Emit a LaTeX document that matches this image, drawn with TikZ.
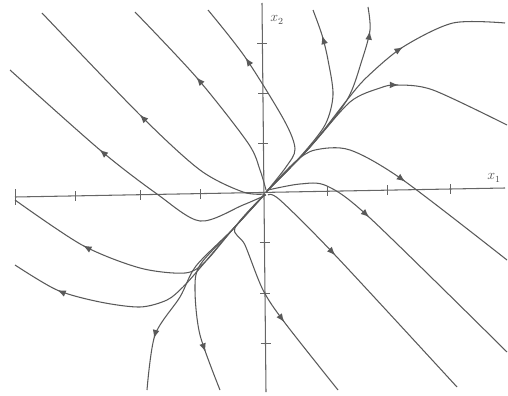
\documentclass[tikz,border=0pt]{standalone}
\usepackage{amsmath,amssymb}
\usetikzlibrary{decorations.markings,arrows}

\begin{document}
\begin{tikzpicture}[x=0.03cm,y=-0.03cm,
  traj/.style={draw=black!65,line width=0.9pt,postaction={decorate},
    decoration={markings,mark=at position #1 with {\arrow[scale=1.35]{latex}}}},
  ax/.style={draw=black!60,line width=0.9pt},
  tck/.style={draw=black!60,line width=0.7pt}]
\useasboundingbox (0,0) rectangle (508,396);

\coordinate (xl) at (15,197);
\coordinate (xr) at (505,188);
\coordinate (yt) at (262,3);
\coordinate (yb) at (266,392);
\draw[ax] (xl) -- (xr);
\draw[ax] (yt) -- (yb);
\draw[tck] (15,189) -- (15,205);
\foreach \x/\y in {75/196,140/195,200/194,327/191,387/190,450/189}
  \draw[tck] (\x,\y-5) -- (\x,\y+5);
\foreach \x/\y in {262.4/43,263/93,263.4/143,264.5/242,265/293,265.5/343}
  \draw[tck] (\x-5,\y) -- (\x+5,\y);

\node[text=black!70] (lx) at (494,178) {\large$x_1$};
\node[text=black!70] (ly) at (277,20) {\large$x_2$};

% upper left
\draw[traj=0.52] plot[smooth] coordinates {(265,194) (243,192) (200,170) (140,115) (42,13)};
\draw[traj=0.62] plot[smooth] coordinates {(266,195) (243,205) (200,221) (157,194) (100,150) (10,70)};
\draw[traj=0.6] plot[smooth] coordinates {(266,190) (260,170) (248,143) (197,78) (135,12)};
\draw[traj=0.72] plot[smooth] coordinates {(267,191) (286,167) (295,149) (284,120) (245,57) (208,10)};

% upper right
\draw[traj=0.87] plot[smooth] coordinates {(266,192) (300,157) (325,125) (333,95) (328,60) (322,35) (313,10)};
\draw[traj=0.89] plot[smooth] coordinates {(266,192) (310,147) (347,100) (362,60) (370,30) (368,7)};
\draw[traj=0.65] plot[smooth] coordinates {(266,192) (310,147) (347,100) (367,77) (403,47) (453,23) (505,23)};
\draw[traj=0.6] plot[smooth] coordinates {(266,192) (310,147) (350,102) (380,88) (397,85) (433,90) (507,125)};

% lower right
\draw[traj=0.56] plot[smooth] coordinates {(267,191) (295,162) (315,150) (350,150) (403,180) (507,260)};
\draw[traj=0.37] plot[smooth] coordinates {(268,190) (300,184) (327,186) (370,218) (507,352)};
\draw[traj=0.34] plot[smooth] coordinates {(268,195) (280,200) (335,255) (457,387)};
\draw[traj=0.64] plot[smooth] coordinates {(265,194) (235,228) (245,245) (263,290) (285,323) (338,390)};

% lower left
\draw[traj=0.82] plot[smooth] coordinates {(265,194) (233,229) (200,265) (195,290) (200,335) (220,390)};
\draw[traj=0.78] plot[smooth] coordinates {(265,194) (233,229) (196,266) (180,297) (155,335) (147,390)};
\draw[traj=0.73] plot[smooth] coordinates {(265,194) (233,229) (205,262) (185,273) (140,268) (82,245) (15,200)};
\draw[traj=0.84] plot[smooth] coordinates {(265,194) (233,229) (200,268) (183,287) (167,300) (140,307) (100,302) (57,290) (15,265)};

\end{tikzpicture}
\end{document}
